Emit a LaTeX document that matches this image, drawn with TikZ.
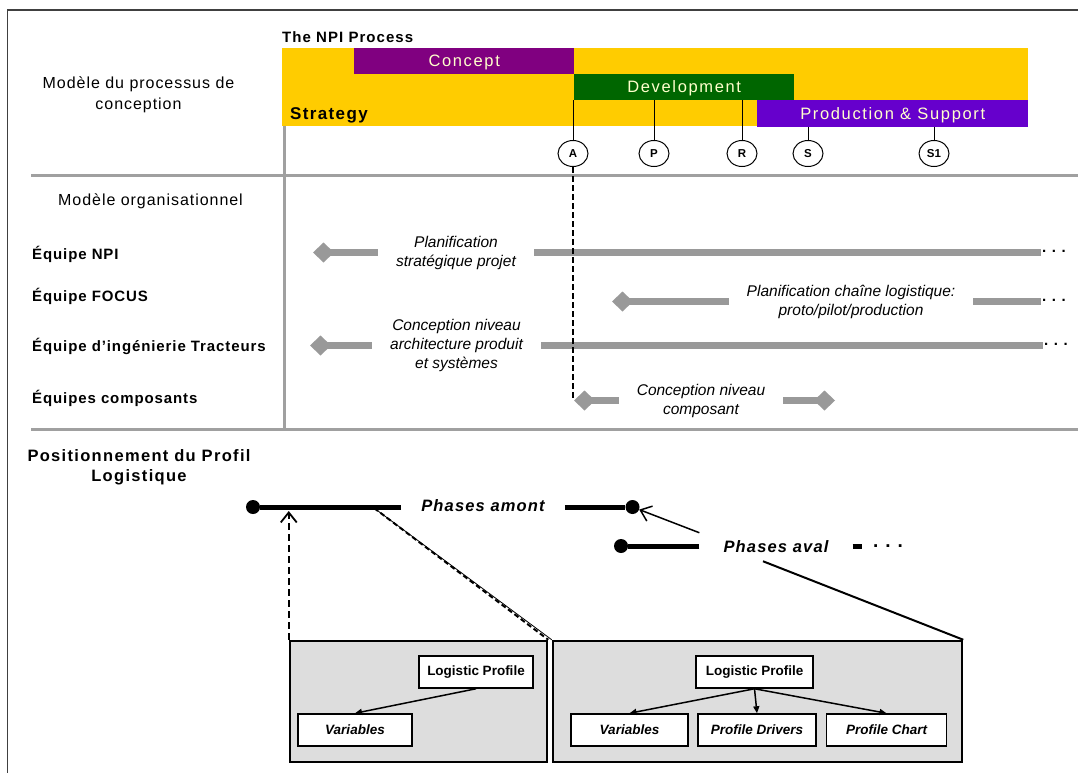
\documentclass[tikz,border=0pt]{standalone}
\usepackage{fontspec}
\setmainfont{Liberation Sans}
\usetikzlibrary{arrows.meta,shapes.geometric}

\definecolor{npiYellow}{HTML}{FFCC00}
\definecolor{conceptPurple}{HTML}{800080}
\definecolor{devGreen}{HTML}{006600}
\definecolor{prodViolet}{HTML}{6600CC}
\definecolor{barText}{HTML}{FFFFCC}
\definecolor{laneGray}{HTML}{999999}
\definecolor{divGray}{HTML}{A0A0A0}
\definecolor{panelGray}{HTML}{DDDDDD}

\begin{document}
\begin{tikzpicture}[x=1pt, y=-1pt, >={Straight Barb[length=10pt,width=16pt]},
	bar/.style={anchor=north west, inner sep=0pt, text depth=0pt, text=barText, font=\fontsize{16.5}{19}\selectfont\addfontfeature{LetterSpace=10}},
	ms/.style={draw, ellipse, line width=1pt, minimum width=30pt, minimum height=26pt, inner sep=0pt, font=\bfseries\fontsize{11.5}{13}\selectfont},
	heading/.style={align=center, font=\fontsize{16}{21}\selectfont\addfontfeature{LetterSpace=6}},
	team/.style={anchor=west, inner sep=0pt, font=\bfseries\fontsize{15}{18}\selectfont\addfontfeature{LetterSpace=6}},
	act/.style={align=center, inner xsep=18pt, font=\itshape\fontsize{15.5}{19}\selectfont},
	lane/.style={line width=7pt, draw=laneGray},
	diam/.style={-{Diamond[length=21pt,width=20pt]}},
	more/.style={inner sep=1pt, font=\bfseries\fontsize{15}{17}\selectfont},
	divider/.style={line width=3pt, draw=divGray},
	phase/.style={line width=5pt},
	bullet/.style={circle, fill, inner sep=0pt, minimum size=14pt},
	panel/.style={draw, line width=2.5pt, fill=panelGray, minimum height=121pt},
	box/.style={draw, line width=1.5pt, fill=white, minimum height=32pt, font=\bfseries\fontsize{13.5}{16}\selectfont},
	ibox/.style={box, font=\bfseries\itshape\fontsize{13.5}{16}\selectfont},
	link/.style={line width=1.5pt, -{Triangle[length=7pt,width=6pt]}}]
	\useasboundingbox (0,0) rectangle (1078,773);
	\draw[line width=1.5pt, black!75] (7.5,773) -- (7.5,10) -- (1078,10);
	\node[anchor=west, inner sep=0pt, font=\bfseries\fontsize{15}{18}\selectfont\addfontfeature{LetterSpace=7}] (npiTitle) at (282,37) {The NPI Process};
	\node[anchor=north west, inner sep=0pt, fill=npiYellow, minimum width=746pt, minimum height=78pt] (strat) at (282,47.5) {};
	\node[anchor=west, inner sep=0pt, font=\bfseries\fontsize{17}{20}\selectfont\addfontfeature{LetterSpace=8}] (stratLbl) at (290,115.5) {Strategy};
	\node[bar, fill=conceptPurple, minimum width=220pt, minimum height=26pt] (concept) at (354,47.5) {Concept};
	\node[bar, fill=devGreen, minimum width=220pt, minimum height=26pt] (dev) at (574,73.5) {Development};
	\node[bar, fill=prodViolet, minimum width=271pt, minimum height=27pt] (prod) at (757,99.5) {Production \& Support};
	\node[ms] (mA) at (573,153.5) {A};
	\node[ms] (mP) at (654,153.5) {P};
	\node[ms] (mR) at (742,153.5) {R};
	\node[ms] (mS) at (808,153.5) {S};
	\node[ms] (mS1) at (934,153.5) {S1};
	\draw[line width=1pt] (mA) -- (mA |- dev.south); \draw[line width=1pt] (mP) -- (mP |- dev.south); \draw[line width=1pt] (mR) -- (mR |- dev.south);
	\draw[line width=1pt] (mS) -- (mS |- prod.south); \draw[line width=1pt] (mS1) -- (mS1 |- prod.south);
	\node[heading] (procLbl) at (138.5,95) {Modèle du processus de\\conception};
	\node[heading] (orgLbl) at (150.5,201) {Modèle organisationnel};
	\draw[divider] (31,175) -- (1078,175);
	\draw[divider] (31,429) -- (1078,429);
	\draw[divider] (284.5,126) -- (284.5,429);
	\node[team] (npi) at (32,254) {Équipe NPI};
	\node[team] (focus) at (32,296) {Équipe FOCUS};
	\node[team] (tract) at (32,346) {Équipe d’ingénierie Tracteurs};
	\node[team] (comp) at (32,398.5) {Équipes composants};
	\node[act] (npiTxt) at (456,252.5) {Planification\\stratégique projet};
	\node[act] (focusTxt) at (851,301.5) {Planification chaîne logistique:\\proto/pilot/production};
	\node[act] (tractTxt) at (456.5,345.5) {Conception niveau\\architecture produit\\et systèmes};
	\node[act] (compTxt) at (701,400.5) {Conception niveau\\composant};
	\coordinate (npiL) at (313,252.5);
	\coordinate (focusL) at (612,301.5);
	\coordinate (tractL) at (310,345.5);
	\coordinate (compL) at (574,400.5);
	\coordinate (compR) at (835,400.5);
	\node[more] (npiMore) at (1054,251) {. . .};
	\node[more] (focusMore) at (1054,300) {. . .};
	\node[more] (tractMore) at (1056,344) {. . .};
	\draw[lane, diam] (npiTxt.west) -- (npiL); \draw[lane] (npiTxt.east) -- (npiMore.west |- npiTxt);
	\draw[lane, diam] (focusTxt.west) -- (focusL); \draw[lane] (focusTxt.east) -- (focusMore.west |- focusTxt);
	\draw[lane, diam] (tractTxt.west) -- (tractL); \draw[lane] (tractTxt.east) -- (tractMore.west |- tractTxt);
	\draw[lane, diam] (compTxt.west) -- (compL); \draw[lane, diam] (compTxt.east) -- (compR);
	\draw[line width=1.6pt, dash pattern=on 6pt off 3pt] (mA) -- (mA |- compL);
	\node[align=center, font=\bfseries\fontsize{16.5}{20}\selectfont\addfontfeature{LetterSpace=8}] (posLbl) at (139,467) {Positionnement du Profil\\Logistique};
	\node[bullet] (amontL) at (253,507) {};
	\node[bullet] (amontR) at (632.5,507) {};
	\node[bullet] (avalL) at (621,546) {};
	\node[inner xsep=20pt, font=\bfseries\itshape\fontsize{16.5}{20}\selectfont\addfontfeature{LetterSpace=7}] (amont) at (483,506) {Phases amont};
	\node[inner xsep=24pt, inner ysep=8pt, font=\bfseries\itshape\fontsize{16.5}{20}\selectfont\addfontfeature{LetterSpace=7}] (aval) at (776,547) {Phases aval};
	\node[inner xsep=11pt, font=\bfseries\fontsize{19}{22}\selectfont] (avalMore) at (888,546) {. . .};
	\draw[phase] (amont.west |- amontL) -- (amontL); \draw[phase] (amont.east |- amontR) -- (amontR);
	\draw[phase] (aval.west |- avalL) -- (avalL); \draw[phase] (aval.east |- avalMore) -- (avalMore.west);
	\draw[->, line width=1.5pt] (aval.north west) -- (amontR);
	\node[panel, minimum width=257pt] (lbox) at (418.5,701.5) {};
	\node[panel, minimum width=409pt] (rbox) at (757.5,701.5) {};
	\coordinate (split) at (374,508);
	\draw[line width=2pt, dash pattern=on 5pt off 3pt] (split) -- (lbox.north east);
	\draw[line width=0.8pt] (split) -- (rbox.north west);
	\draw[->, line width=1.8pt, dash pattern=on 7pt off 4pt, shorten >=4pt] (lbox.north west) -- (lbox.north west |- amontL);
	\draw[line width=2pt] ([xshift=-13pt]aval.south) -- (rbox.north east);
	\node[box, minimum width=114pt] (lpL) at (476,672) {Logistic Profile};
	\node[ibox, minimum width=114pt] (varL) at (355,730) {Variables};
	\node[box, minimum width=117pt] (lpR) at (754.5,672) {Logistic Profile};
	\node[ibox, minimum width=117pt] (varR) at (629.5,730) {Variables};
	\node[ibox, minimum width=118pt] (drvR) at (757,730) {Profile Drivers};
	\node[ibox, minimum width=120pt] (chartR) at (886.5,730) {Profile Chart};
	\draw[link] (lpL.south) -- (varL.north);
	\draw[link] (lpR.south) -- (varR.north); \draw[link] (lpR.south) -- (drvR.north); \draw[link] (lpR.south) -- (chartR.north);
\end{tikzpicture}
\end{document}
